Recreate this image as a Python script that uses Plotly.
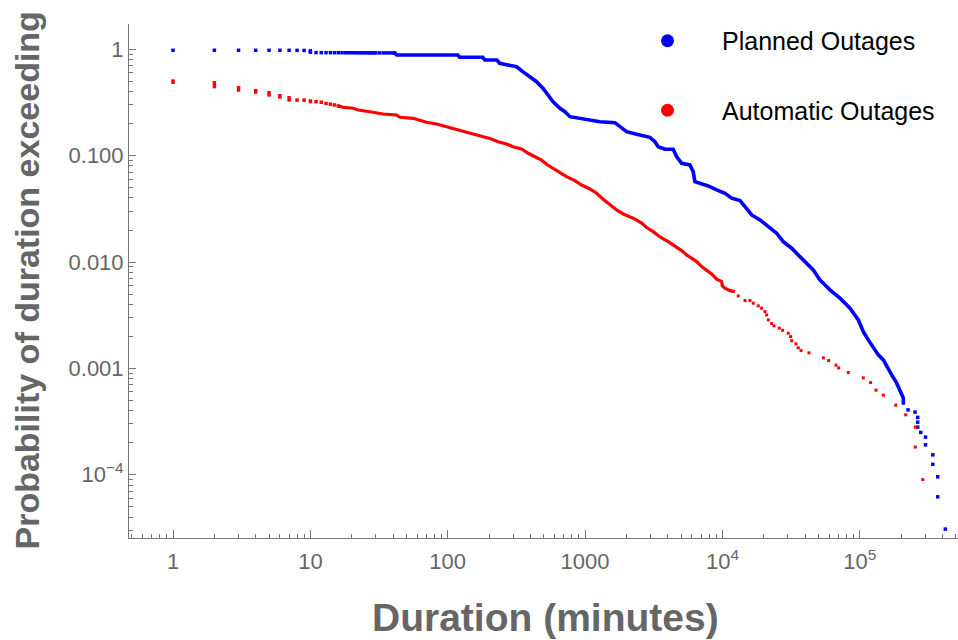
import plotly.graph_objects as go

# ---------------- data ----------------
# Planned outages: isolated points at short durations
planned_pts_x = [1, 2, 3, 4, 5, 6, 7, 8, 9, 10, 10, 11, 12, 13, 14, 15, 16, 17, 18, 19, 20,
                 21, 22, 23, 24, 25, 26, 27, 28, 29, 30, 32, 34, 36, 38, 40, 41]
planned_pts_y = [0.979, 0.979, 0.979, 0.979, 0.979, 0.979, 0.979, 0.978, 0.976, 0.968, 0.940,
                 0.931, 0.930, 0.930, 0.930, 0.929, 0.929, 0.929, 0.928, 0.928, 0.928,
                 0.928, 0.927, 0.927, 0.927, 0.927, 0.926, 0.926, 0.926, 0.926, 0.926,
                 0.925, 0.925, 0.925, 0.925, 0.924, 0.924]
# Planned outages: dense part of the curve
planned_x = [41, 42.6, 118.5, 122, 180, 186, 228, 239, 274, 317, 352, 396, 443, 493, 536,
             583, 656, 713, 776, 918, 1085, 1283, 1649, 1792, 2006, 2371, 2965, 3223, 3406,
             3811, 4383, 4637, 5045, 5797, 6126, 6303, 7051, 7881, 9077, 10430, 11670,
             13420, 14590, 16330, 18760, 21570, 24830, 27730, 31920, 35660, 41040, 45830,
             51270, 60640, 71730, 84840, 97560, 106000, 115300, 125400, 136400, 148300,
             157000, 170700, 185700, 196300, 207500, 207500]
planned_y = [0.924, 0.884, 0.884, 0.841, 0.841, 0.793, 0.793, 0.739, 0.712, 0.686, 0.616,
             0.553, 0.496, 0.430, 0.372, 0.322, 0.279, 0.259, 0.2325, 0.2246, 0.2165,
             0.2087, 0.2042, 0.1873, 0.1681, 0.1589, 0.1489, 0.1353, 0.1215, 0.1149,
             0.1149, 0.0979, 0.0848, 0.0818, 0.0707, 0.0569, 0.0542, 0.0519, 0.0476,
             0.0443, 0.0398, 0.0378, 0.0332, 0.0277, 0.0249, 0.0215, 0.01865, 0.01555,
             0.01348, 0.01166, 0.00974, 0.00843, 0.00679, 0.00547, 0.00457, 0.00368,
             0.002856, 0.002218, 0.001853, 0.001549, 0.001339, 0.001202, 0.001039,
             0.000869, 0.000726, 0.000605, 0.000525, 0.000454]
# Planned outages: isolated points in the tail
planned_tail_x = [224500, 252500, 264000, 264000, 264000, 277700, 300900, 300900,
                  340200, 340200, 369200, 369200, 419500]
planned_tail_y = [0.000407, 0.000388, 0.000346, 0.000312, 0.00028, 0.00025, 0.0002256,
                  0.000191, 0.0001538, 0.0001253, 0.0000956, 0.000062, 0.0000308]

# Automatic outages: tied values at short durations (top / bottom of each column)
auto_bar_x = [1, 2, 3, 4, 5, 6, 7, 10]
auto_bar_top = [0.522, 0.503, 0.452, 0.424, 0.406, 0.380, 0.364, 0.339]
auto_bar_bottom = [0.472, 0.430, 0.399, 0.382, 0.359, 0.343, 0.322, 0.311]
auto_pts_x = [8, 9, 11, 12, 13, 14, 15, 16]
auto_pts_y = [0.333, 0.333, 0.322, 0.318, 0.310, 0.305, 0.300, 0.293]
# Automatic outages: dense part of the curve
auto_x = [16, 17.3, 20.5, 22.3, 27.1, 33.8, 42.4, 44.8, 56, 62.6, 70.1, 82.9, 98, 116,
          137, 157, 181, 208, 233, 268, 299, 345, 385, 431, 482, 524, 586, 655, 733, 843,
          943, 1084, 1213, 1355, 1517, 1696, 1895, 2240, 2580, 2806, 3135, 3508, 4030,
          4266, 4637, 5045, 5486, 5966, 6488, 7055, 7672, 8343, 9073, 9866, 9970, 10430,
          11340, 12330]
auto_y = [0.293, 0.285, 0.279, 0.269, 0.259, 0.2465, 0.2412, 0.2296, 0.2246, 0.2165,
          0.206, 0.1986, 0.1873, 0.177, 0.168, 0.160, 0.151, 0.1435, 0.1353, 0.1288,
          0.1215, 0.1156, 0.1053, 0.0979, 0.0911, 0.0830, 0.0761, 0.0692, 0.0635, 0.0582,
          0.0530, 0.0486, 0.0443, 0.0389, 0.0344, 0.0309, 0.0283, 0.0258, 0.0232, 0.0211,
          0.0193, 0.0172, 0.01555, 0.01479, 0.01395, 0.0128, 0.01166, 0.01086, 0.01009,
          0.00905, 0.0083, 0.00773, 0.00689, 0.00654, 0.00596, 0.00567, 0.00538, 0.00527]
# Automatic outages: isolated points in the tail
auto_tail_x = [13030, 14590, 15860, 16760, 18230, 19290, 20400, 20990, 21570, 22820,
               23720, 25930, 27430, 30120, 31390, 31920, 34290, 35660, 37320, 42660,
               54240, 59380, 67120, 70200, 82460, 106000, 119900, 131100, 148300,
               182600, 215900, 253600, 253600, 287300]
auto_tail_y = [0.0048, 0.00434, 0.00434, 0.0041, 0.00387, 0.00368, 0.00342, 0.00318,
               0.00286, 0.00264, 0.00251, 0.00239, 0.00228, 0.00214, 0.00199, 0.00182,
               0.0017, 0.00156, 0.00147, 0.0014, 0.001255, 0.001184, 0.001072, 0.00101,
               0.000913, 0.000814, 0.000735, 0.000624, 0.00056, 0.000451, 0.000366,
               0.00028, 0.000182, 0.00009]

x_tick_vals = [1, 10, 100, 1000, 1e4, 1e5]
x_tick_text = ["1", "10", "100", "1000", "10<sup>4</sup>", "10<sup>5</sup>"]
y_tick_vals = [1, 0.1, 0.01, 0.001, 0.0001]
y_tick_text = ["1", "0.100", "0.010", "0.001", "10<sup>\u22124</sup>"]

BLUE = "#0000ff"
RED = "#ff0000"
GRAY = "#666666"
FONT = "Liberation Sans, Arial, sans-serif"

fig = go.Figure()

# ---- planned (blue)
fig.add_trace(go.Scatter(x=planned_pts_x, y=planned_pts_y, mode="markers",
                         marker=dict(symbol="square", size=3.5, color=BLUE, line=dict(width=0)),
                         showlegend=False, hoverinfo="skip"))
fig.add_trace(go.Scatter(x=planned_x, y=planned_y, mode="lines",
                         line=dict(color=BLUE, width=3.6), showlegend=False, hoverinfo="skip"))
fig.add_trace(go.Scatter(x=planned_tail_x, y=planned_tail_y, mode="markers",
                         marker=dict(symbol="square", size=3.5, color=BLUE, line=dict(width=0)),
                         showlegend=False, hoverinfo="skip"))

# ---- automatic (red)
bar_x, bar_y = [], []
for bx, bt, bb in zip(auto_bar_x, auto_bar_top, auto_bar_bottom):
    bar_x += [bx, bx, None]
    bar_y += [bt, bb, None]
fig.add_trace(go.Scatter(x=bar_x, y=bar_y, mode="lines", connectgaps=False,
                         line=dict(color=RED, width=3.5), showlegend=False, hoverinfo="skip"))
fig.add_trace(go.Scatter(x=auto_pts_x, y=auto_pts_y, mode="markers",
                         marker=dict(symbol="square", size=3.5, color=RED, line=dict(width=0)),
                         showlegend=False, hoverinfo="skip"))
fig.add_trace(go.Scatter(x=auto_x, y=auto_y, mode="lines",
                         line=dict(color=RED, width=3.2), showlegend=False, hoverinfo="skip"))
fig.add_trace(go.Scatter(x=auto_tail_x, y=auto_tail_y, mode="markers",
                         marker=dict(symbol="square", size=3, color=RED, line=dict(width=0)),
                         showlegend=False, hoverinfo="skip"))

# ---- legend entries
fig.add_trace(go.Scatter(x=[None], y=[None], mode="markers", name="Planned Outages",
                         legendgroup="planned",
                         marker=dict(symbol="circle", size=13, color=BLUE)))
fig.add_trace(go.Scatter(x=[None], y=[None], mode="markers", name="Automatic Outages",
                         legendgroup="auto",
                         marker=dict(symbol="circle", size=13, color=RED)))

minor_x = [m * 10 ** e for e in range(-1, 6) for m in range(2, 10)]
minor_y = [m * 10 ** e for e in range(-5, 1) for m in range(2, 10)]

axis_common = dict(type="log", showgrid=False, zeroline=False, showline=True,
                   linecolor="#777777", linewidth=1, ticks="inside", tickcolor="#777777",
                   tickwidth=1, tickmode="array",
                   tickfont=dict(family=FONT, size=22, color=GRAY))

fig.update_layout(
    width=958, height=640,
    margin=dict(l=129, r=0, t=24, b=102),
    paper_bgcolor="white", plot_bgcolor="white",
    xaxis=dict(**axis_common, range=[-0.3205, 5.715], tickvals=x_tick_vals,
               ticktext=x_tick_text, ticklen=8, ticklabelstandoff=4,
               minor=dict(tickmode="array", tickvals=minor_x, ticks="inside", ticklen=4,
                          tickcolor="#777777", tickwidth=1, showgrid=False)),
    yaxis=dict(**axis_common, range=[-4.595, 0.238], tickvals=y_tick_vals,
               ticktext=y_tick_text, ticklen=7, ticklabelstandoff=0,
               minor=dict(tickmode="array", tickvals=minor_y, ticks="inside", ticklen=4,
                          tickcolor="#777777", tickwidth=1, showgrid=False)),
    legend=dict(x=(613 - 129) / 829, xanchor="left", y=1.0117, yanchor="top",
                font=dict(family=FONT, size=25, color="black"),
                bgcolor="rgba(0,0,0,0)", borderwidth=0, itemwidth=99,
                tracegroupgap=34, itemclick=False),
    annotations=[
        dict(text="Duration (minutes)", xref="paper", yref="paper", x=0.5024, y=-0.1556,
             xanchor="center", yanchor="middle", showarrow=False,
             font=dict(family=FONT, size=39, color=GRAY, weight="bold")),
        dict(text="Probability of duration exceeding", xref="paper", yref="paper",
             x=-0.123, y=0.501, xanchor="center", yanchor="middle", showarrow=False,
             textangle=-90,
             font=dict(family=FONT, size=34, color=GRAY, weight="bold")),
    ],
)

fig.write_html("out.html")
